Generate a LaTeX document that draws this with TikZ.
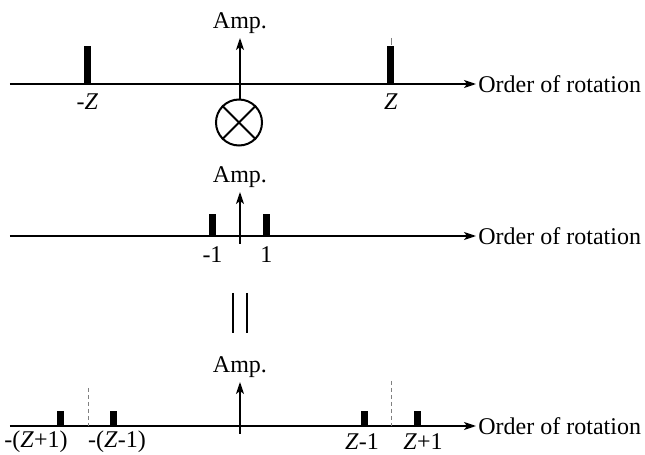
\documentclass[tikz,border=0pt]{standalone}
\usepackage{fontspec}
\setmainfont{Liberation Serif}
\usepackage{tikz}
\usetikzlibrary{positioning,arrows.meta}

\begin{document}
\begin{tikzpicture}[x=0.5pt, y=-0.5pt, font=\fontsize{12}{14}\selectfont,
  axis/.style={line width=0.7pt, -{Stealth[length=6pt,width=4pt,inset=1.5pt]}},
  peak/.style={fill, inner sep=0pt, minimum width=3.5pt, anchor=south},
  guide/.style={gray, line width=0.4pt, dash pattern=on 2pt off 1.5pt}]
  \useasboundingbox (0,0) rectangle (645,455);

  % Spectrum (top)
  \coordinate (o1) at (10,84);
  \node[anchor=west, inner sep=1pt] (t1) at (476,84) {Order of rotation};
  \draw[axis] (o1) -- (t1);
  \coordinate (v1) at (240,99);
  \coordinate (a1) at (240,38);
  \draw[axis] (v1) -- (a1);
  \node[above=-1.5pt of a1] (amp1) {Amp.};
  \node[peak, minimum height=19pt] (pz1) at (87.5,84) {};
  \node[peak, minimum height=19pt] (pz2) at (391,84) {};
  \node[below=1.5pt of pz1] (lz1) {-\textit{Z}};
  \node[below=1.5pt of pz2] (lz2) {\textit{Z}};
  \coordinate (k1) at (391,38);
  \draw[gray, line width=0.4pt] (k1) -- (pz2.north);

  % Product
  \node[circle, draw, line width=1pt, minimum size=23pt, inner sep=0pt] (ox) at (239,122.5) {};
  \draw[line width=1pt] (ox.135) -- (ox.-45);
  \draw[line width=1pt] (ox.45) -- (ox.-135);

  % Spectrum (middle)
  \coordinate (o2) at (10,236);
  \node[anchor=west, inner sep=1pt] (t2) at (476,236) {Order of rotation};
  \draw[axis] (o2) -- (t2);
  \coordinate (v2) at (240,244);
  \coordinate (a2) at (240,192);
  \draw[axis] (v2) -- (a2);
  \node[above=-1.5pt of a2] (amp2) {Amp.};
  \node[peak, minimum height=11pt] (pm1) at (212.5,236) {};
  \node[peak, minimum height=11pt] (pm2) at (266.5,236) {};
  \node[below=2pt of pm1] (lm1) {-1};
  \node[below=2pt of pm2] (lm2) {1};

  % Equals
  \coordinate (q1) at (233,293);
  \coordinate (q2) at (233,333);
  \coordinate (q3) at (247,293);
  \coordinate (q4) at (247,333);
  \draw[line width=1pt] (q1) -- (q2);
  \draw[line width=1pt] (q3) -- (q4);

  % Spectrum (bottom)
  \coordinate (o3) at (10,426);
  \node[anchor=west, inner sep=1pt] (t3) at (476,426) {Order of rotation};
  \draw[axis] (o3) -- (t3);
  \coordinate (v3) at (240,434);
  \coordinate (a3) at (240,382);
  \draw[axis] (v3) -- (a3);
  \node[above=-1.5pt of a3] (amp3) {Amp.};
  \node[peak, minimum height=7.5pt] (pb1) at (61,426) {};
  \node[peak, minimum height=7.5pt] (pb2) at (114,426) {};
  \node[peak, minimum height=7.5pt] (pb3) at (365,426) {};
  \node[peak, minimum height=7.5pt] (pb4) at (418,426) {};
  \coordinate (g1) at (88,388);
  \coordinate (g2) at (88,426);
  \coordinate (g3) at (391,381);
  \coordinate (g4) at (391,426);
  \draw[guide] (g1) -- (g2);
  \draw[guide] (g3) -- (g4);
  \node (lb1) at (36,442) {-(\textit{Z}+1)};
  \node (lb2) at (117,442) {-(\textit{Z}-1)};
  \node (lb3) at (362,442) {\textit{Z}-1};
  \node (lb4) at (423,442) {\textit{Z}+1};
\end{tikzpicture}
\end{document}
